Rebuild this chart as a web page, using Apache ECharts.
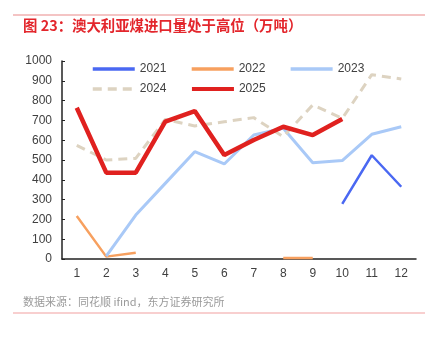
<!DOCTYPE html>
<html><head><meta charset="utf-8">
<script src="https://cdn.jsdelivr.net/npm/echarts@6/dist/echarts.min.js"></script>
<style>html,body{margin:0;padding:0;background:#fff}#c{width:431px;height:339px}</style>
</head><body><div id="c"></div>
<script>
const categories = ['1','2','3','4','5','6','7','8','9','10','11','12'];
const s2021 = [null,null,null,null,null,null,null,null,null,278,524,365];
const s2022 = [217,12,32,null,null,null,null,5,5,null,null,null];
const s2023 = [null,15,222,382,542,480,626,660,486,497,630,668];
const s2024 = [574,500,508,705,672,693,714,618,778,710,931,909];
const s2025 = [764,436,436,694,747,525,601,668,626,707,null,null];
const yTicks = [0,100,200,300,400,500,600,700,800,900,1000];

const chart = echarts.init(document.getElementById('c'), null, {renderer:'canvas'});
const font = 'Liberation Sans, Arial, Noto Sans CJK SC, sans-serif';
function mk(name, data, color, width, type) {
  return {name, type:'line', data, symbol:'none', connectNulls:false, silent:true,
    lineStyle:{color, width, type: type||'solid', cap:'butt'}, itemStyle:{color}};
}
const legendCommon = {left:86, itemWidth:42, itemHeight:14, itemGap:23.5,
  itemStyle:{opacity:0},
  textStyle:{fontSize:12, color:'#404040', fontFamily:font}};
chart.setOption({
  backgroundColor:'#fff',
  animation:false,
  textStyle:{fontFamily:font},
  graphic:[
    {type:'line', shape:{x1:13,y1:15,x2:425,y2:15}, style:{stroke:'#e98a8a', lineWidth:1.2}},
    {type:'text', left:23, top:18, style:{text:'图 23：澳大利亚煤进口量处于高位（万吨）', fill:'#e3262c', font:'bold 14.4px "Noto Sans CJK SC", sans-serif'}},
    {type:'text', left:23, top:296, style:{text:'数据来源：同花顺 ifind，东方证券研究所', fill:'#9a9a9a', font:'11px "Noto Sans CJK SC", sans-serif'}},
    {type:'line', shape:{x1:13,y1:313,x2:425,y2:313}, style:{stroke:'#f2a0a0', lineWidth:1.2}}
  ],
  grid:{left:62, right:15, top:61, bottom:80},
  legend:[
    Object.assign({data:[
      {name:'2021', lineStyle:{width:3.5}},
      {name:'2022', lineStyle:{width:3.5}},
      {name:'2023', lineStyle:{width:3.5}}], top:58}, legendCommon),
    Object.assign({data:[
      {name:'2024', lineStyle:{width:3.5}},
      {name:'2025', lineStyle:{width:4}}], top:78}, legendCommon)
  ],
  xAxis:{type:'category', data:categories, boundaryGap:true,
    axisLine:{lineStyle:{color:'#222', width:1.5}},
    axisTick:{inside:true, length:3, lineStyle:{color:'#222'}},
    axisLabel:{color:'#404040', fontSize:12, margin:9, fontFamily:font}},
  yAxis:{type:'value', min:yTicks[0], max:yTicks[yTicks.length-1], interval:100,
    splitLine:{show:false},
    axisLine:{show:true, lineStyle:{color:'#222', width:1.5}},
    axisTick:{show:true, inside:true, length:3, lineStyle:{color:'#222'}},
    axisLabel:{color:'#404040', fontSize:12, margin:10, fontFamily:font, formatter:v=>String(v)}},
  series:[
    mk('2021', s2021, '#4a68f2', 2.5),
    mk('2022', s2022, '#f7a05f', 2.5),
    mk('2023', s2023, '#a9c9f7', 3),
    mk('2024', s2024, '#ddd3c1', 3, [9,6]),
    mk('2025', s2025, '#e0211f', 4.5)
  ]
});
</script></body></html>
